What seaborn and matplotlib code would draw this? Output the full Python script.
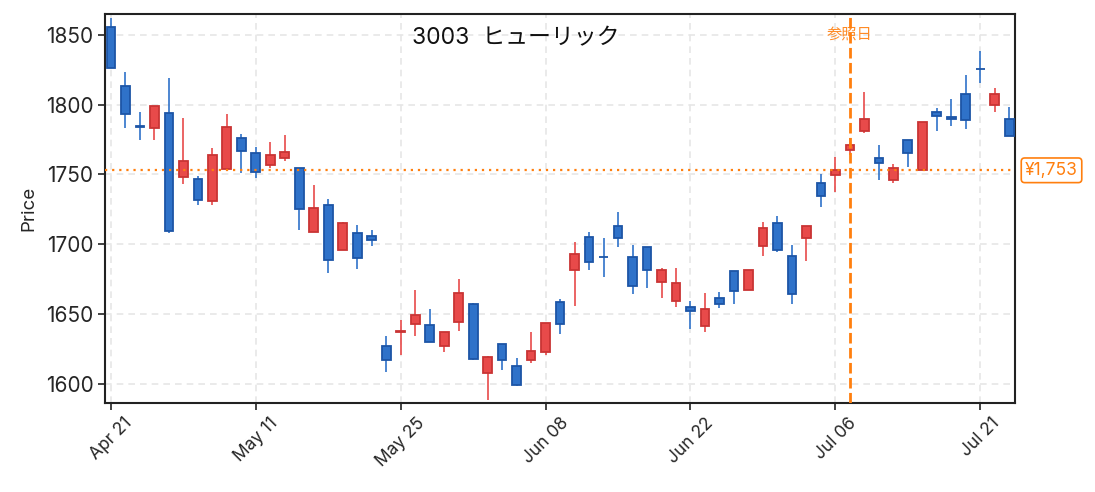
import matplotlib
matplotlib.use("Agg")
import matplotlib.pyplot as plt
import matplotlib.transforms as mtransforms
import seaborn as sns
import numpy as np
import pandas as pd

# OHLC values (63 sessions)
opens = [1855.5, 1813, 1784.5, 1783, 1794, 1748.4, 1747, 1731, 1754, 1776,
         1765.5, 1757, 1761.5, 1755, 1709, 1728, 1696, 1708, 1706, 1627.6,
         1637, 1643, 1642, 1627.4, 1644.5, 1657.6, 1607.7, 1629, 1612.7, 1617.4,
         1623, 1659, 1681.4, 1705.5, 1691.2, 1713.3, 1691, 1698.3, 1673, 1659.5,
         1655.5, 1641.7, 1662, 1681, 1667.2, 1698.7, 1715.6, 1692, 1704.4, 1744,
         1749.4, 1767.3, 1781, 1762, 1746, 1774.7, 1753.5, 1795, 1791.4, 1807.6,
         1825.7, 1799.5, 1789.7]
closes = [1826.2, 1793, 1784, 1799, 1709.6, 1760, 1731.7, 1764, 1784, 1766.7,
          1751.5, 1764, 1766, 1725.3, 1726, 1689, 1715, 1690, 1703, 1617.4,
          1638.1, 1649.8, 1630.3, 1637, 1665.5, 1617.9, 1619.8, 1617.4, 1599.6, 1623.4,
          1644, 1643, 1693.3, 1687.4, 1690.8, 1704.5, 1670.3, 1681.4, 1682, 1672.6,
          1652.4, 1654, 1657.5, 1666.5, 1681.8, 1711.8, 1696.3, 1664.4, 1713.2, 1734.4,
          1753.3, 1771, 1790, 1758, 1754.7, 1765.2, 1787.6, 1792, 1789.5, 1788.8,
          1825.3, 1807.6, 1777.3]
highs = [1861.7, 1823, 1794.5, 1799, 1819, 1790.7, 1749, 1769, 1793, 1779,
         1769.6, 1773, 1778, 1755, 1742.4, 1732.4, 1716, 1714, 1710, 1634.5,
         1645.7, 1667.4, 1653.8, 1637, 1675.2, 1658, 1620, 1629, 1618.8, 1637.4,
         1644, 1660.7, 1701.4, 1708.6, 1704.3, 1723, 1699.3, 1698.3, 1682.9, 1683,
         1659.3, 1665.5, 1665.8, 1681, 1681.8, 1715.8, 1720, 1699.4, 1713.2, 1750.2,
         1762.3, 1776, 1808.8, 1770.9, 1757.8, 1774.7, 1787.6, 1797.8, 1803.8, 1821,
         1838.6, 1812, 1798.5]
lows = [1826.2, 1783, 1775, 1775, 1708.4, 1743, 1728, 1728.4, 1753.5, 1751,
        1747.7, 1755, 1760, 1710, 1709, 1679.4, 1696, 1682.7, 1699, 1609,
        1620.7, 1634.3, 1630.3, 1622.7, 1638.4, 1617, 1589, 1610.5, 1598.4, 1615.5,
        1621, 1636.2, 1656.2, 1682, 1677, 1698.3, 1664.8, 1669, 1661.4, 1655.5,
        1639.8, 1637.4, 1654.6, 1657.5, 1667.2, 1691.8, 1694.9, 1657.5, 1688.2, 1726.8,
        1737.5, 1763.7, 1779.7, 1746, 1744, 1755.4, 1753.5, 1781, 1784.7, 1782.6,
        1815.4, 1794.7, 1777.3]

tick_idx = [0, 10, 20, 30, 40, 50, 60]
tick_labels = ["Apr 21", "May 11", "May 25", "Jun 08", "Jun 22", "Jul 06", "Jul 21"]

ref_idx = 51
ref_price = 1753
title = "3003  ヒューリック"

df = pd.DataFrame({"open": opens, "high": highs, "low": lows, "close": closes})
df["i"] = np.arange(len(df))
df["up"] = df["close"] >= df["open"]

sns.set_theme(style="ticks")
plt.rcParams["font.family"] = ["Inter", "Noto Sans CJK JP", "DejaVu Sans"]

fig, ax = plt.subplots(figsize=(10.95, 4.92), dpi=100)
fig.subplots_adjust(left=0.096, right=0.927, top=0.971, bottom=0.181)

up_fill, up_edge = "#e84a4a", "#c93434"
dn_fill, dn_edge = "#2f72c9", "#1d55a6"

for up, fill, edge in [(True, up_fill, up_edge), (False, dn_fill, dn_edge)]:
    d = df[df["up"] == up]
    ax.vlines(d["i"], d["low"], d["high"], color=fill, lw=1.2, zorder=2)
    bottom = np.minimum(d["open"], d["close"])
    height = np.maximum(np.abs(d["close"] - d["open"]), 0.4)
    ax.bar(d["i"], height, bottom=bottom, width=0.6, color=fill,
           edgecolor=edge, linewidth=1.3, zorder=3)

ax.axhline(ref_price, color="#ff7f0e", lw=1.6, ls=(0, (1, 2.2)), zorder=4)
ax.axvline(ref_idx, color="#ff7f0e", lw=2.0, ls=(0, (3.8, 1.6)), zorder=4)

ax.set_xlim(-0.4, len(df) - 0.6)
ax.set_ylim(1586.6, 1864.6)
ax.set_xticks(tick_idx)
ax.set_xticklabels(tick_labels, rotation=45, fontsize=12.5)
ax.set_yticks([1600, 1650, 1700, 1750, 1800, 1850])
ax.tick_params(axis="y", labelsize=15)
ax.tick_params(length=5, width=1.2, color="#222222")
ax.set_ylabel("Price", fontsize=13.5, labelpad=6)
ax.grid(True, ls=(0, (4, 3)), color="#e6e6e6", lw=1.2)
ax.set_axisbelow(True)
for s in ax.spines.values():
    s.set_color("#222222")
    s.set_linewidth(1.5)

ax.text(0.451, 0.937, title, transform=ax.transAxes, ha="center", va="center",
        fontsize=16.5, color="#111111")

trans = mtransforms.blended_transform_factory(ax.transData, ax.transAxes)
ax.text(ref_idx, 0.95, "参照日", transform=trans, ha="center", va="center",
        fontsize=11, color="#ff7f0e", alpha=0.9, zorder=5)

trans2 = mtransforms.blended_transform_factory(ax.transAxes, ax.transData)
ax.text(1.011, ref_price, f"¥{ref_price:,}", transform=trans2, ha="left", va="center",
        fontsize=12.5, color="#ff7f0e", clip_on=False,
        bbox=dict(boxstyle="round,pad=0.22,rounding_size=0.2", fc="white", ec="#ff7f0e", lw=1.2))

fig.savefig("out.png", dpi=100)
